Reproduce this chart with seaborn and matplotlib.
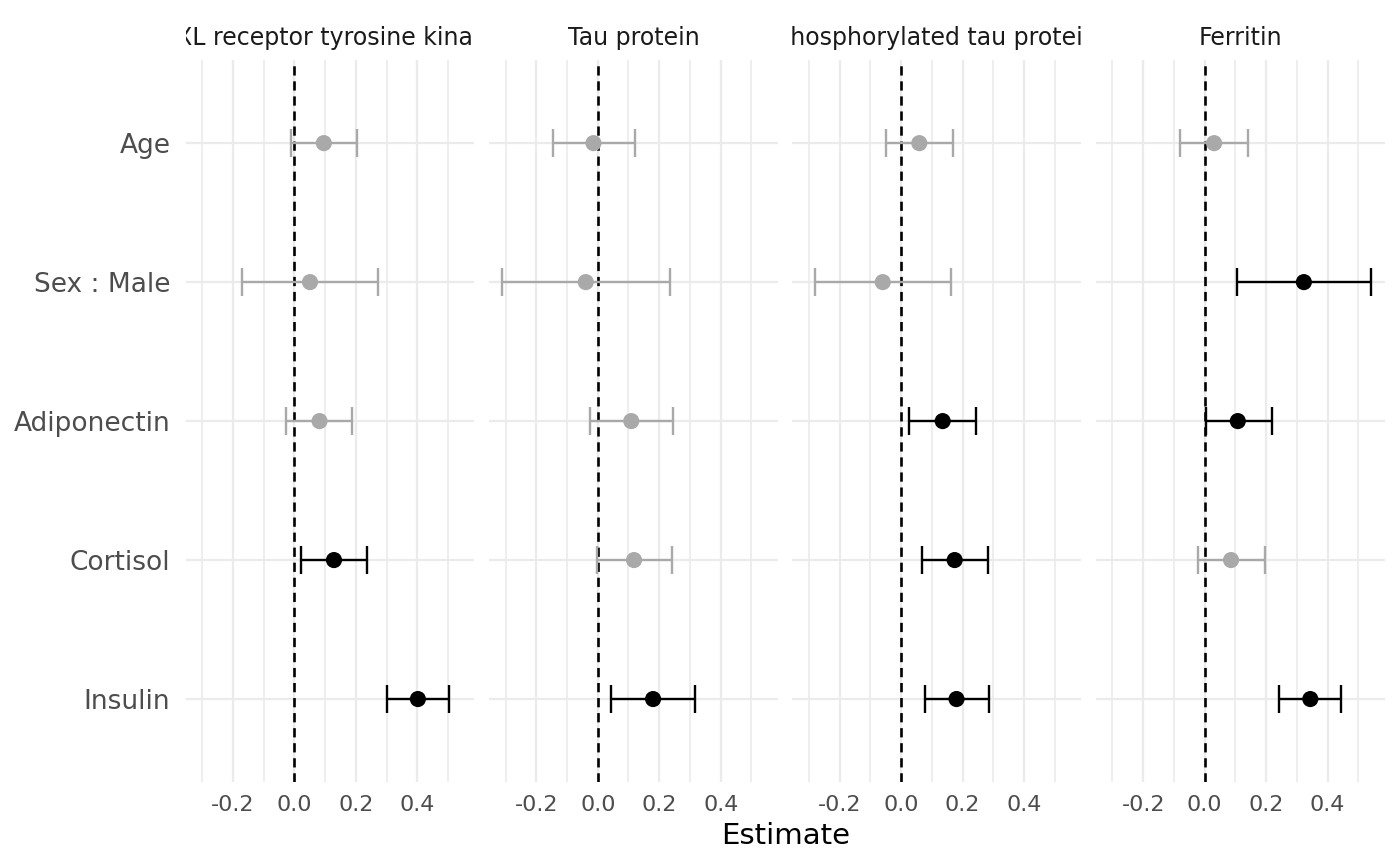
import numpy as np
import pandas as pd
import matplotlib
matplotlib.use("Agg")
import matplotlib.pyplot as plt
import seaborn as sns
from matplotlib.ticker import FixedLocator, MultipleLocator
from matplotlib.transforms import Bbox, TransformedBbox

# values
terms = ["Age", "Sex : Male", "Adiponectin", "Cortisol", "Insulin"]
proteins = ["AXL receptor tyrosine kinase", "Tau protein",
            "Phosphorylated tau protein", "Ferritin"]

axl_est = [0.096, 0.051, 0.082, 0.129, 0.402]
axl_low = [-0.012, -0.170, -0.027, 0.022, 0.303]
axl_high = [0.205, 0.272, 0.189, 0.238, 0.502]

tau_est = [-0.014, -0.039, 0.109, 0.118, 0.180]
tau_low = [-0.147, -0.311, -0.026, -0.004, 0.044]
tau_high = [0.121, 0.234, 0.245, 0.240, 0.316]

ptau_est = [0.059, -0.060, 0.135, 0.174, 0.180]
ptau_low = [-0.050, -0.282, 0.027, 0.067, 0.076]
ptau_high = [0.170, 0.161, 0.242, 0.281, 0.287]

fer_est = [0.031, 0.323, 0.108, 0.086, 0.344]
fer_low = [-0.079, 0.104, 0.003, -0.022, 0.243]
fer_high = [0.142, 0.543, 0.218, 0.196, 0.444]

est_all = [axl_est, tau_est, ptau_est, fer_est]
low_all = [axl_low, tau_low, ptau_low, fer_low]
high_all = [axl_high, tau_high, ptau_high, fer_high]

rows = []
for p, e, lo, hi in zip(proteins, est_all, low_all, high_all):
    for i, t in enumerate(terms):
        rows.append({"protein": p, "term": t, "ypos": i,
                     "estimate": e[i], "low": lo[i], "high": hi[i]})
df = pd.DataFrame(rows)
df["sig"] = np.where((df["low"] > 0) | (df["high"] < 0), "yes", "no")

colors = {"yes": "black", "no": "#A9A9A9"}

sns.set_theme(style="white")
plt.rcParams["font.family"] = ["DejaVu Sans"]

fig, axes = plt.subplots(1, 4, figsize=(14, 8.66), dpi=100, sharex=True, sharey=True)
fig.subplots_adjust(left=0.1326, right=0.989, top=0.931, bottom=0.0965, wspace=0.051)

lo_x, hi_x = df["low"].min(), df["high"].max()
pad = 0.05 * (hi_x - lo_x)

for ax, p in zip(axes, proteins):
    sub = df[df["protein"] == p]
    ax.set_axisbelow(True)
    for s, grp in sub.groupby("sig"):
        ax.errorbar(grp["estimate"], grp["ypos"],
                    xerr=[grp["estimate"] - grp["low"], grp["high"] - grp["estimate"]],
                    fmt="none", ecolor=colors[s], elinewidth=1.7, capsize=10,
                    capthick=1.7, zorder=3)
    sns.scatterplot(data=sub, x="estimate", y="ypos", hue="sig", palette=colors,
                    s=135, linewidth=0, legend=False, ax=ax, zorder=4)
    ax.axvline(0, color="black", linestyle=(0, (3.5, 2.2)), linewidth=1.9, zorder=2)

    ax.set_xlim(lo_x - pad, hi_x + pad)
    ax.set_ylim(len(terms) - 1 + 0.6, -0.6)
    ax.xaxis.set_major_locator(FixedLocator([-0.2, 0.0, 0.2, 0.4]))
    ax.xaxis.set_minor_locator(MultipleLocator(0.1))
    ax.set_xticklabels(["-0.2", "0.0", "0.2", "0.4"])
    ax.set_yticks(range(len(terms)))
    ax.set_yticklabels(terms)
    ax.grid(which="major", axis="both", color="#EBEBEB", linewidth=1.6)
    ax.grid(which="minor", axis="x", color="#EBEBEB", linewidth=1.2)
    ax.tick_params(axis="x", which="both", length=0, pad=9, labelsize=16,
                   labelcolor="#4D4D4D")
    ax.tick_params(axis="y", which="both", length=0, pad=11, labelsize=19,
                   labelcolor="#4D4D4D")
    for sp in ax.spines.values():
        sp.set_visible(False)
    ax.set_xlabel("")
    ax.set_ylabel("")

    title = ax.text(0.5, 1.03, p, transform=ax.transAxes, ha="center", va="center",
                    fontsize=17, color="#1A1A1A")
    title.set_clip_box(TransformedBbox(Bbox.from_extents(0, 1.0, 1, 1.1), ax.transAxes))
    title.set_clip_on(True)

fig.text(0.561, 0.0346, "Estimate", ha="center", va="center", fontsize=21, color="black")

fig.savefig("out.png", dpi=100, facecolor="white")
